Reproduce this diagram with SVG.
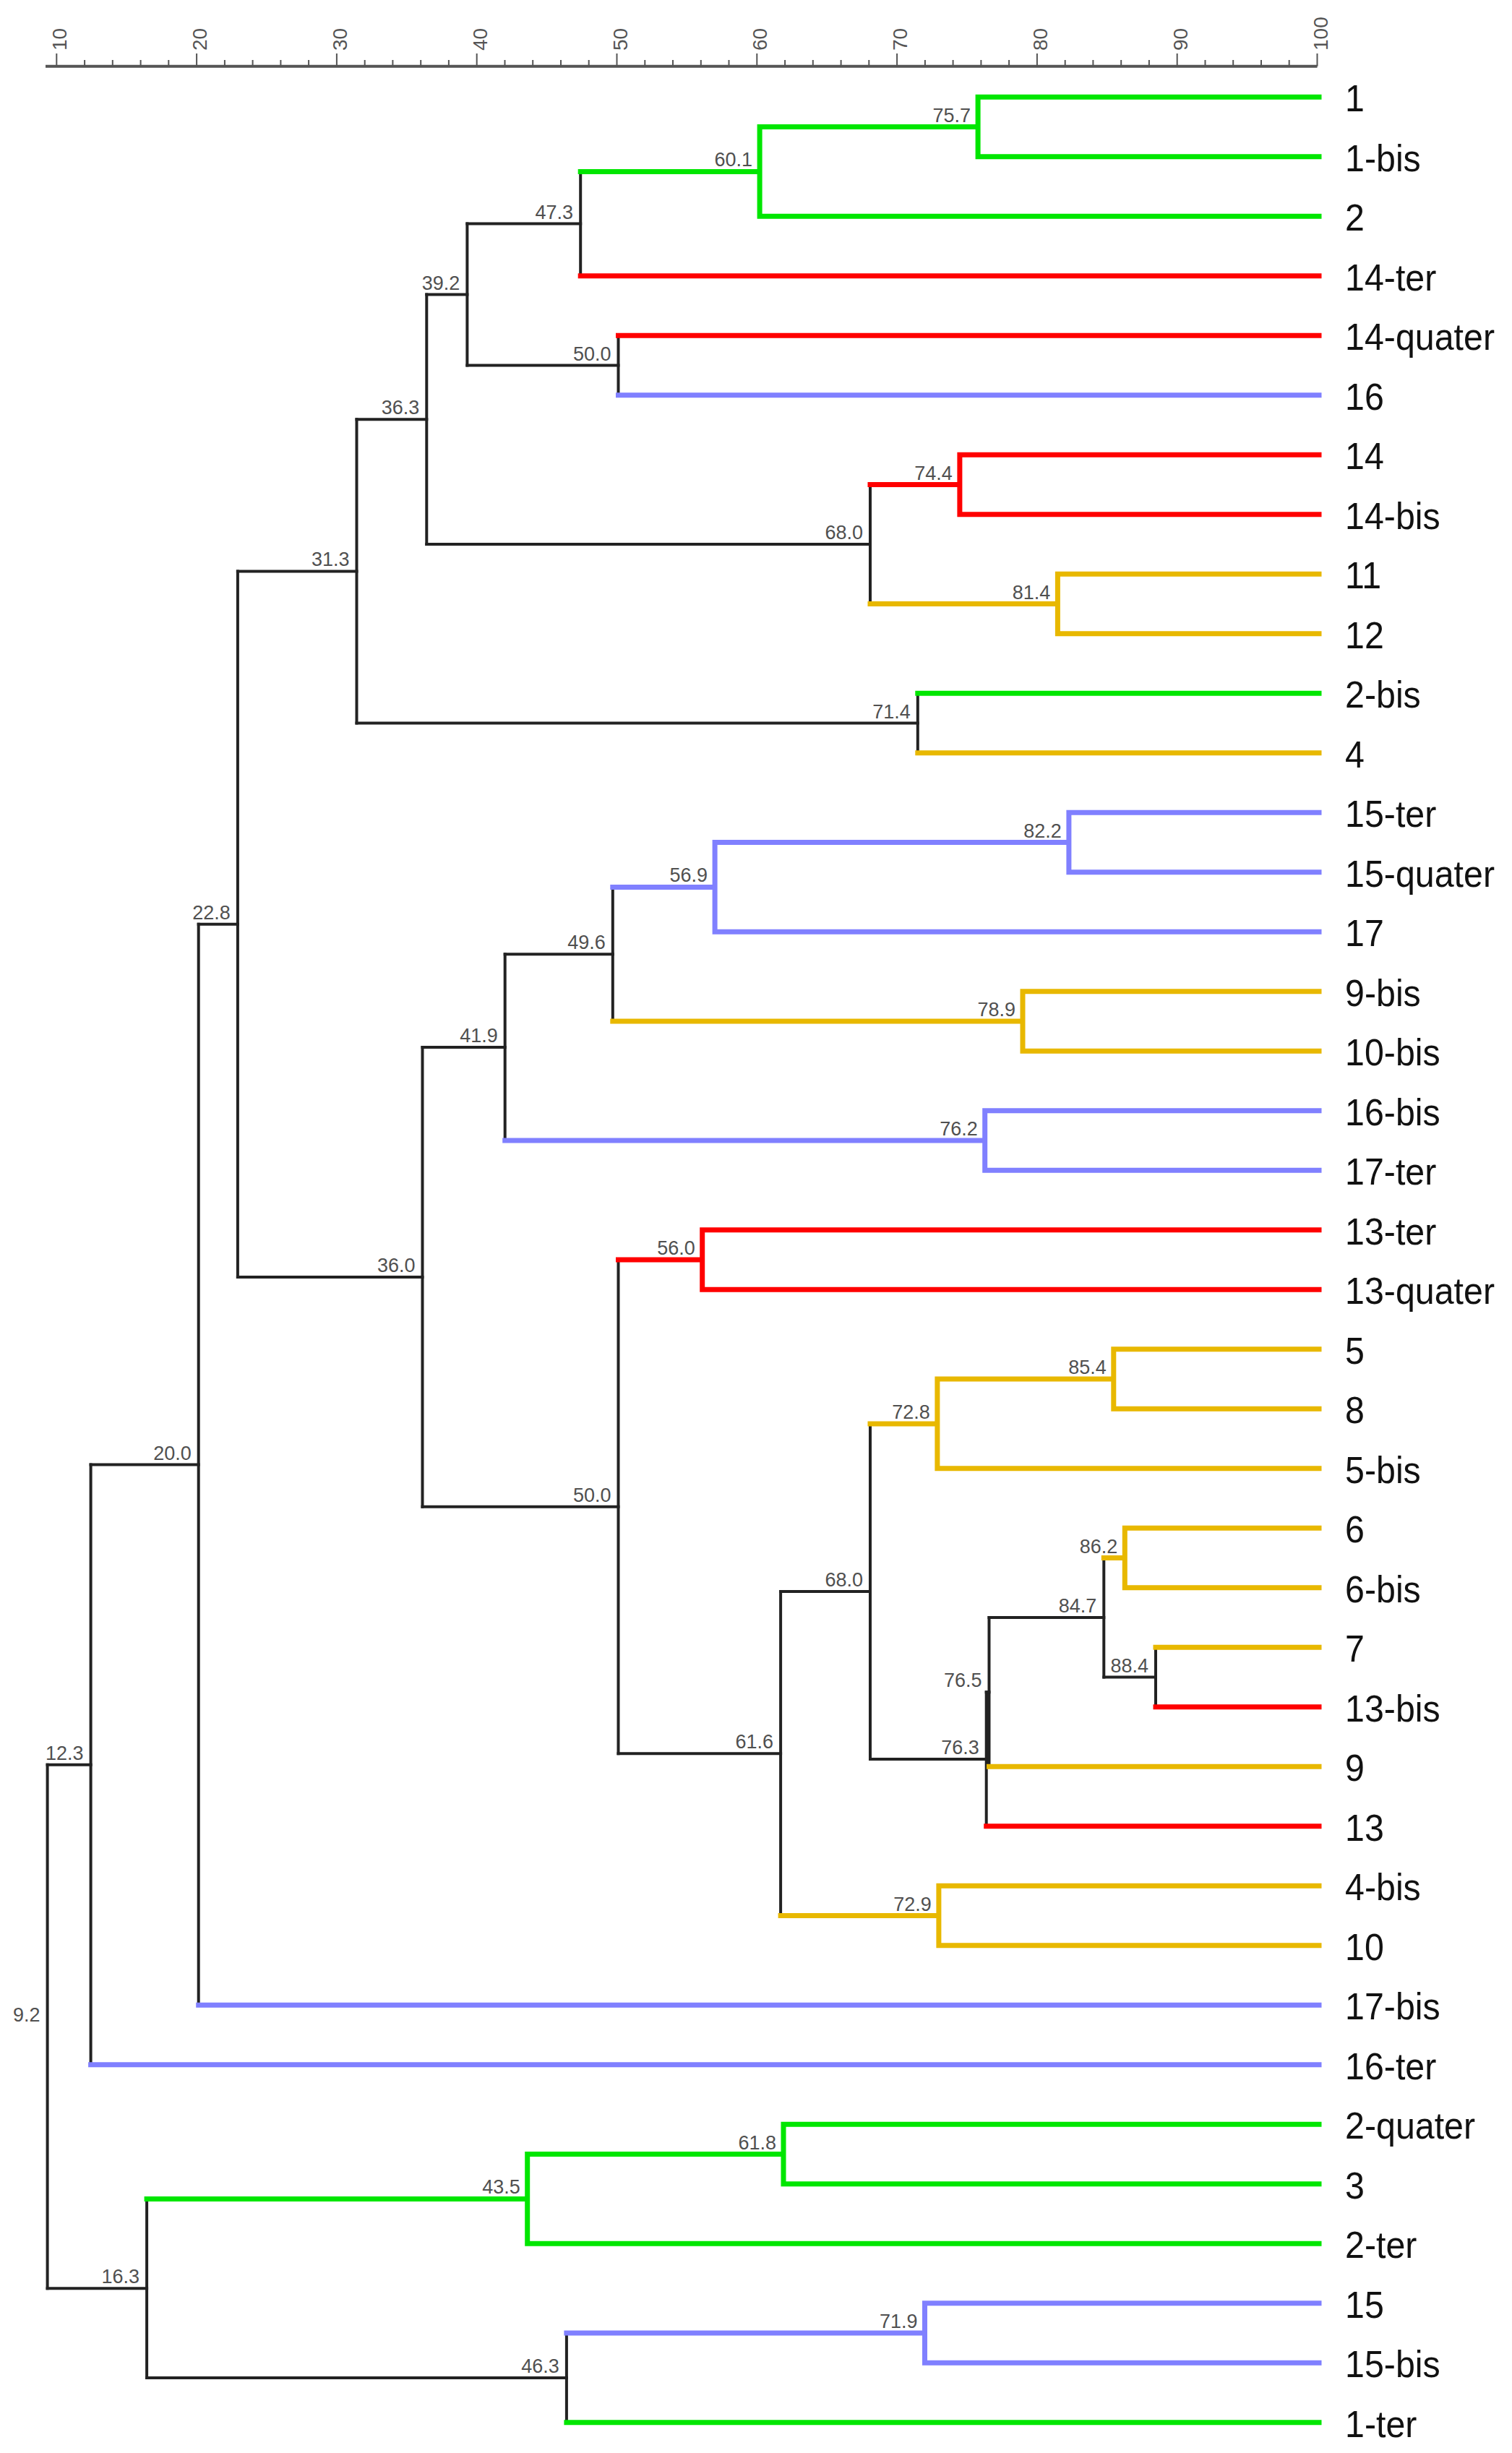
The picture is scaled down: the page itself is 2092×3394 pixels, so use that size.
<svg xmlns="http://www.w3.org/2000/svg" width="2092" height="3394" viewBox="0 0 2092 3394">
<style>
.k{stroke:#222;stroke-width:4;fill:none;stroke-linecap:square}
.g{stroke:#00e600;stroke-width:7;fill:none;stroke-linecap:square}
.r{stroke:#ff0000;stroke-width:7;fill:none;stroke-linecap:square}
.b{stroke:#8080ff;stroke-width:7;fill:none;stroke-linecap:square}
.y{stroke:#e8b800;stroke-width:7;fill:none;stroke-linecap:square}
.ax{stroke:#555;fill:none}
.axl{font-family:"Liberation Sans",Arial,sans-serif;font-size:28px;fill:#555}
.lf{font-family:"Liberation Sans",Arial,sans-serif;font-size:52px;fill:#111}
.v{font-family:"Liberation Sans",Arial,sans-serif;font-size:27px;fill:#505050;text-anchor:end}
</style>
<rect width="2092" height="3394" fill="#fff"/>
<g id="axis">
<path class="ax" stroke-width="4" d="M63 91.7H1822.5"/>
<path class="ax" stroke-width="2" d="M78.3 91.7V74M272.1 91.7V74M465.9 91.7V74M659.7 91.7V74M853.5 91.7V74M1047.3 91.7V74M1241.1 91.7V74M1434.9 91.7V74M1628.7 91.7V74M1822.5 91.7V74"/>
<path class="ax" stroke-width="2" d="M117.1 91.7V83M155.8 91.7V83M194.6 91.7V83M233.3 91.7V83M310.9 91.7V83M349.6 91.7V83M388.4 91.7V83M427.1 91.7V83M504.7 91.7V83M543.4 91.7V83M582.2 91.7V83M620.9 91.7V83M698.5 91.7V83M737.2 91.7V83M776 91.7V83M814.7 91.7V83M892.3 91.7V83M931 91.7V83M969.8 91.7V83M1008.5 91.7V83M1086.1 91.7V83M1124.8 91.7V83M1163.6 91.7V83M1202.3 91.7V83M1279.9 91.7V83M1318.6 91.7V83M1357.4 91.7V83M1396.1 91.7V83M1473.7 91.7V83M1512.4 91.7V83M1551.2 91.7V83M1589.9 91.7V83M1667.5 91.7V83M1706.2 91.7V83M1745 91.7V83M1783.7 91.7V83"/>
<text class="axl" transform="translate(92.3,70) rotate(-90)">10</text>
<text class="axl" transform="translate(286.1,70) rotate(-90)">20</text>
<text class="axl" transform="translate(479.9,70) rotate(-90)">30</text>
<text class="axl" transform="translate(673.7,70) rotate(-90)">40</text>
<text class="axl" transform="translate(867.5,70) rotate(-90)">50</text>
<text class="axl" transform="translate(1061.3,70) rotate(-90)">60</text>
<text class="axl" transform="translate(1255.1,70) rotate(-90)">70</text>
<text class="axl" transform="translate(1448.9,70) rotate(-90)">80</text>
<text class="axl" transform="translate(1642.7,70) rotate(-90)">90</text>
<text class="axl" transform="translate(1836.5,70) rotate(-90)">100</text>
</g>
<g id="connectors">
<path class="k" d="M803.2 237.4V381.8M855.5 464.3V546.8M646.4 309.6V505.6M1204 670.6V835.6M590.3 407.6V753.1M1269.8 959.3V1041.8M493.5 580.3V1000.6M847.8 1227.4V1413.1M698.7 1320.2V1578.1M1599 2279.3V2361.8M1527.3 2155.6V2320.6M1368.5 2238.1V2444.3M1364.7 2341.2V2526.8M1204 1969.9V2434M1080.1 2202V2650.6M855.5 1743.1V2426.3M584.5 1449.1V2084.7M328.9 790.4V1766.9M274.7 1278.7V2774.3M125.6 2026.5V2856.8M783.9 3228.1V3351.8M203.1 3042.4V3289.9M65.6 2441.7V3166.2"/>
<path class="k" d="M646.4 309.6H803.2M646.4 505.6H855.5M590.3 407.6H646.4M590.3 753.1H1204M493.5 580.3H590.3M493.5 1000.6H1269.8M328.9 790.4H493.5M698.7 1320.2H847.8M584.5 1449.1H698.7M1527.3 2320.6H1599M1368.5 2238.1H1527.3M1364.7 2341.2H1368.5M1204 2434H1364.7M1080.1 2202H1204M855.5 2426.3H1080.1M584.5 2084.7H855.5M328.9 1766.9H584.5M274.7 1278.7H328.9M125.6 2026.5H274.7M65.6 2441.7H125.6M203.1 3289.9H783.9M65.6 3166.2H203.1"/>
<path class="g" d="M1353.1 134.3V216.8M1051.1 175.6H1353.1M1353.1 134.3H1825M1353.1 216.8H1825M1051.1 175.6V299.3M803.2 237.4H1051.1M1051.1 299.3H1825M1269.8 959.3H1825M1084 2939.3V3021.8M1084 2939.3H1825M1084 3021.8H1825M729.7 2980.6H1084M729.7 2980.6V3104.3M729.7 3104.3H1825M203.1 3042.4H729.7M783.9 3351.8H1825"/>
<path class="r" d="M803.2 381.8H1825M855.5 464.3H1825M1327.9 629.3V711.8M1204 670.6H1327.9M1327.9 629.3H1825M1327.9 711.8H1825M971.7 1701.8V1784.3M855.5 1743.1H971.7M971.7 1701.8H1825M971.7 1784.3H1825M1599 2361.8H1825M1364.7 2526.8H1825"/>
<path class="b" d="M855.5 546.8H1825M1478.9 1124.3V1206.8M1478.9 1124.3H1825M1478.9 1206.8H1825M989.1 1165.6H1478.9M989.1 1165.6V1289.3M989.1 1289.3H1825M847.8 1227.4H989.1M1362.7 1536.8V1619.3M1362.7 1536.8H1825M1362.7 1619.3H1825M698.7 1578.1H1362.7M274.7 2774.3H1825M125.6 2856.8H1825M1279.5 3186.8V3269.3M1279.5 3186.8H1825M1279.5 3269.3H1825M783.9 3228.1H1279.5"/>
<path class="y" d="M1463.4 794.3V876.8M1463.4 794.3H1825M1463.4 876.8H1825M1204 835.6H1463.4M1269.8 1041.8H1825M1415 1371.8V1454.3M1415 1371.8H1825M1415 1454.3H1825M847.8 1413.1H1415M1540.8 1866.8V1949.3M1540.8 1866.8H1825M1540.8 1949.3H1825M1296.9 1908.1H1540.8M1296.9 1908.1V2031.8M1296.9 2031.8H1825M1204 1969.9H1296.9M1556.3 2114.3V2196.8M1556.3 2114.3H1825M1556.3 2196.8H1825M1527.3 2155.6H1556.3M1599 2279.3H1825M1368.5 2444.3H1825M1298.9 2609.3V2691.8M1298.9 2609.3H1825M1298.9 2691.8H1825M1080.1 2650.6H1298.9"/>
</g>
<g id="node-75.7"><text class="v" x="1343" y="168.6">75.7</text></g>
<g id="node-60.1"><text class="v" x="1041" y="230.4">60.1</text></g>
<g id="node-47.3"><text class="v" x="793" y="302.6">47.3</text></g>
<g id="node-50.0a"><text class="v" x="845.5" y="498.6">50.0</text></g>
<g id="node-39.2"><text class="v" x="636.4" y="400.6">39.2</text></g>
<g id="node-74.4"><text class="v" x="1317.9" y="663.6">74.4</text></g>
<g id="node-81.4"><text class="v" x="1453.4" y="828.6">81.4</text></g>
<g id="node-68.0a"><text class="v" x="1194" y="746.1">68.0</text></g>
<g id="node-36.3"><text class="v" x="580.3" y="573.3">36.3</text></g>
<g id="node-71.4"><text class="v" x="1259.8" y="993.6">71.4</text></g>
<g id="node-31.3"><text class="v" x="483.5" y="783.4">31.3</text></g>
<g id="node-82.2"><text class="v" x="1468.9" y="1158.6">82.2</text></g>
<g id="node-56.9"><text class="v" x="979.1" y="1220.4">56.9</text></g>
<g id="node-78.9"><text class="v" x="1405" y="1406.1">78.9</text></g>
<g id="node-49.6"><text class="v" x="837.8" y="1313.2">49.6</text></g>
<g id="node-76.2"><text class="v" x="1352.7" y="1571.1">76.2</text></g>
<g id="node-41.9"><text class="v" x="688.7" y="1442.1">41.9</text></g>
<g id="node-56.0"><text class="v" x="961.7" y="1736.1">56.0</text></g>
<g id="node-85.4"><text class="v" x="1530.8" y="1901.1">85.4</text></g>
<g id="node-72.8"><text class="v" x="1286.9" y="1962.9">72.8</text></g>
<g id="node-86.2"><text class="v" x="1546.3" y="2148.6">86.2</text></g>
<g id="node-88.4"><text class="v" x="1589" y="2313.6">88.4</text></g>
<g id="node-84.7"><text class="v" x="1517.3" y="2231.1">84.7</text></g>
<g id="node-76.5"><text class="v" x="1358.5" y="2334.2">76.5</text></g>
<g id="node-76.3"><text class="v" x="1354.7" y="2427">76.3</text></g>
<g id="node-68.0b"><text class="v" x="1194" y="2195">68.0</text></g>
<g id="node-72.9"><text class="v" x="1288.9" y="2643.6">72.9</text></g>
<g id="node-61.6"><text class="v" x="1070.1" y="2419.3">61.6</text></g>
<g id="node-50.0b"><text class="v" x="845.5" y="2077.7">50.0</text></g>
<g id="node-36.0"><text class="v" x="574.5" y="1759.9">36.0</text></g>
<g id="node-22.8"><text class="v" x="318.9" y="1271.7">22.8</text></g>
<g id="node-20.0"><text class="v" x="264.7" y="2019.5">20.0</text></g>
<g id="node-12.3"><text class="v" x="115.6" y="2434.7">12.3</text></g>
<g id="node-61.8"><text class="v" x="1074" y="2973.6">61.8</text></g>
<g id="node-43.5"><text class="v" x="719.7" y="3035.4">43.5</text></g>
<g id="node-71.9"><text class="v" x="1269.5" y="3221.1">71.9</text></g>
<g id="node-46.3"><text class="v" x="773.9" y="3282.9">46.3</text></g>
<g id="node-16.3"><text class="v" x="193.1" y="3159.2">16.3</text></g>
<g id="node-9.2"><text class="v" x="55.6" y="2796.9">9.2</text></g>
<g id="leaf-1" transform="translate(1861,0) scale(0.93,1)"><text class="lf" y="154.3">1</text></g>
<g id="leaf-1-bis" transform="translate(1861,0) scale(0.93,1)"><text class="lf" y="236.8">1-bis</text></g>
<g id="leaf-2" transform="translate(1861,0) scale(0.93,1)"><text class="lf" y="319.3">2</text></g>
<g id="leaf-14-ter" transform="translate(1861,0) scale(0.93,1)"><text class="lf" y="401.8">14-ter</text></g>
<g id="leaf-14-quater" transform="translate(1861,0) scale(0.93,1)"><text class="lf" y="484.3">14-quater</text></g>
<g id="leaf-16" transform="translate(1861,0) scale(0.93,1)"><text class="lf" y="566.8">16</text></g>
<g id="leaf-14" transform="translate(1861,0) scale(0.93,1)"><text class="lf" y="649.3">14</text></g>
<g id="leaf-14-bis" transform="translate(1861,0) scale(0.93,1)"><text class="lf" y="731.8">14-bis</text></g>
<g id="leaf-11" transform="translate(1861,0) scale(0.93,1)"><text class="lf" y="814.3">11</text></g>
<g id="leaf-12" transform="translate(1861,0) scale(0.93,1)"><text class="lf" y="896.8">12</text></g>
<g id="leaf-2-bis" transform="translate(1861,0) scale(0.93,1)"><text class="lf" y="979.3">2-bis</text></g>
<g id="leaf-4" transform="translate(1861,0) scale(0.93,1)"><text class="lf" y="1061.8">4</text></g>
<g id="leaf-15-ter" transform="translate(1861,0) scale(0.93,1)"><text class="lf" y="1144.3">15-ter</text></g>
<g id="leaf-15-quater" transform="translate(1861,0) scale(0.93,1)"><text class="lf" y="1226.8">15-quater</text></g>
<g id="leaf-17" transform="translate(1861,0) scale(0.93,1)"><text class="lf" y="1309.3">17</text></g>
<g id="leaf-9-bis" transform="translate(1861,0) scale(0.93,1)"><text class="lf" y="1391.8">9-bis</text></g>
<g id="leaf-10-bis" transform="translate(1861,0) scale(0.93,1)"><text class="lf" y="1474.3">10-bis</text></g>
<g id="leaf-16-bis" transform="translate(1861,0) scale(0.93,1)"><text class="lf" y="1556.8">16-bis</text></g>
<g id="leaf-17-ter" transform="translate(1861,0) scale(0.93,1)"><text class="lf" y="1639.3">17-ter</text></g>
<g id="leaf-13-ter" transform="translate(1861,0) scale(0.93,1)"><text class="lf" y="1721.8">13-ter</text></g>
<g id="leaf-13-quater" transform="translate(1861,0) scale(0.93,1)"><text class="lf" y="1804.3">13-quater</text></g>
<g id="leaf-5" transform="translate(1861,0) scale(0.93,1)"><text class="lf" y="1886.8">5</text></g>
<g id="leaf-8" transform="translate(1861,0) scale(0.93,1)"><text class="lf" y="1969.3">8</text></g>
<g id="leaf-5-bis" transform="translate(1861,0) scale(0.93,1)"><text class="lf" y="2051.8">5-bis</text></g>
<g id="leaf-6" transform="translate(1861,0) scale(0.93,1)"><text class="lf" y="2134.3">6</text></g>
<g id="leaf-6-bis" transform="translate(1861,0) scale(0.93,1)"><text class="lf" y="2216.8">6-bis</text></g>
<g id="leaf-7" transform="translate(1861,0) scale(0.93,1)"><text class="lf" y="2299.3">7</text></g>
<g id="leaf-13-bis" transform="translate(1861,0) scale(0.93,1)"><text class="lf" y="2381.8">13-bis</text></g>
<g id="leaf-9" transform="translate(1861,0) scale(0.93,1)"><text class="lf" y="2464.3">9</text></g>
<g id="leaf-13" transform="translate(1861,0) scale(0.93,1)"><text class="lf" y="2546.8">13</text></g>
<g id="leaf-4-bis" transform="translate(1861,0) scale(0.93,1)"><text class="lf" y="2629.3">4-bis</text></g>
<g id="leaf-10" transform="translate(1861,0) scale(0.93,1)"><text class="lf" y="2711.8">10</text></g>
<g id="leaf-17-bis" transform="translate(1861,0) scale(0.93,1)"><text class="lf" y="2794.3">17-bis</text></g>
<g id="leaf-16-ter" transform="translate(1861,0) scale(0.93,1)"><text class="lf" y="2876.8">16-ter</text></g>
<g id="leaf-2-quater" transform="translate(1861,0) scale(0.93,1)"><text class="lf" y="2959.3">2-quater</text></g>
<g id="leaf-3" transform="translate(1861,0) scale(0.93,1)"><text class="lf" y="3041.8">3</text></g>
<g id="leaf-2-ter" transform="translate(1861,0) scale(0.93,1)"><text class="lf" y="3124.3">2-ter</text></g>
<g id="leaf-15" transform="translate(1861,0) scale(0.93,1)"><text class="lf" y="3206.8">15</text></g>
<g id="leaf-15-bis" transform="translate(1861,0) scale(0.93,1)"><text class="lf" y="3289.3">15-bis</text></g>
<g id="leaf-1-ter" transform="translate(1861,0) scale(0.93,1)"><text class="lf" y="3371.8">1-ter</text></g>
</svg>
